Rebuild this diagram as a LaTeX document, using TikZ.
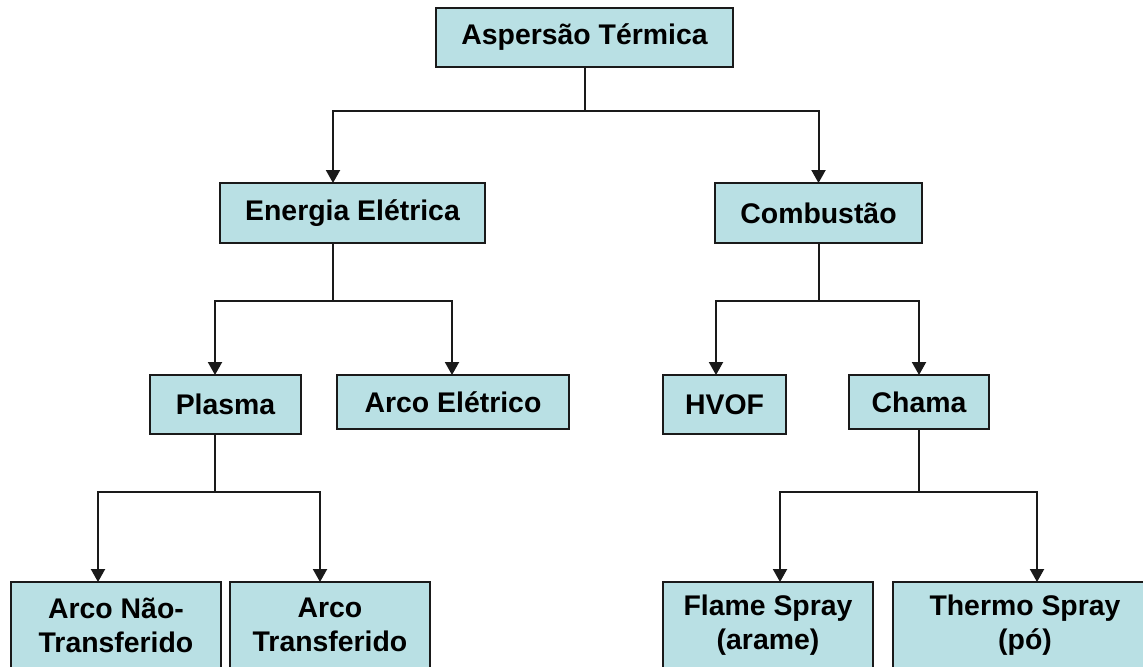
\documentclass[tikz,border=0pt]{standalone}
\usepackage{fontspec}
\setmainfont{Liberation Sans}
\usetikzlibrary{arrows.meta}
\definecolor{boxfill}{HTML}{B9E0E4}
\definecolor{linecol}{HTML}{1A1A1A}
\begin{document}
\begin{tikzpicture}[x=0.5pt,y=-0.5pt,
 box/.style={draw=linecol, line width=1pt, fill=boxfill, inner sep=0pt, outer sep=0pt, align=center, font=\bfseries\fontsize{14.2}{17}\selectfont},
 link/.style={line width=1pt, draw=linecol},
 arr/.style={link, -{Triangle[length=6.5pt,width=7pt]}}]
\useasboundingbox[fill=white] (0,0) rectangle (1143,666);
\clip (0,0) rectangle (1143,666);

\node[box, minimum width=148.5pt, minimum height=29.5pt] (asp) at (584.5,37.5) {Aspersão Térmica};
\node[box, minimum width=132.5pt, minimum height=30pt] (ene) at (352.5,213) {Energia Elétrica};
\node[box, minimum width=103.5pt, minimum height=30pt] (com) at (818.5,213) {Combustão};
\node[box, minimum width=75.5pt, minimum height=29.5pt] (pla) at (225.5,404.5) {Plasma};
\node[box, minimum width=116pt, minimum height=27pt] (are) at (453,402) {Arco Elétrico};
\node[box, minimum width=61.5pt, minimum height=29.5pt] (hvo) at (724.5,404.5) {HVOF};
\node[box, minimum width=70pt, minimum height=27pt] (cha) at (919,402) {Chama};
\node[box, minimum width=105pt, minimum height=43pt] (ant) at (116,625) {Arco Não-\\Transferido};
\node[box, minimum width=100pt, minimum height=43pt] (atr) at (330,625) {Arco\\Transferido};
\node[box, minimum width=105pt, minimum height=43pt] (fla) at (768,625) {Flame Spray\\(arame)};
\node[box, minimum width=132pt, minimum height=43pt] (the) at (1025,625) {Thermo Spray\\(pó)};

\coordinate (j1) at (584.5,111);
\coordinate (j2) at (333,301);
\coordinate (j3) at (818.5,301);
\coordinate (j4) at (215,492);
\coordinate (j5) at (919,492);

\draw[link] (asp.south) -- (j1);
\draw[arr] (j1) -| ([xshift=-9.75pt]ene.north);
\draw[arr] (j1) -| (com.north);
\draw[link] ([xshift=-9.75pt]ene.south) -- (j2);
\draw[arr] (j2) -| ([xshift=-5.25pt]pla.north);
\draw[arr] (j2) -| ([xshift=-0.5pt]are.north);
\draw[link] (com.south) -- (j3);
\draw[arr] (j3) -| ([xshift=-4.25pt]hvo.north);
\draw[arr] (j3) -| (cha.north);
\draw[link] ([xshift=-5.25pt]pla.south) -- (j4);
\draw[arr] (j4) -| ([xshift=-9pt]ant.north);
\draw[arr] (j4) -| ([xshift=-5pt]atr.north);
\draw[link] (cha.south) -- (j5);
\draw[arr] (j5) -| ([xshift=6pt]fla.north);
\draw[arr] (j5) -| ([xshift=6pt]the.north);
\end{tikzpicture}
\end{document}
